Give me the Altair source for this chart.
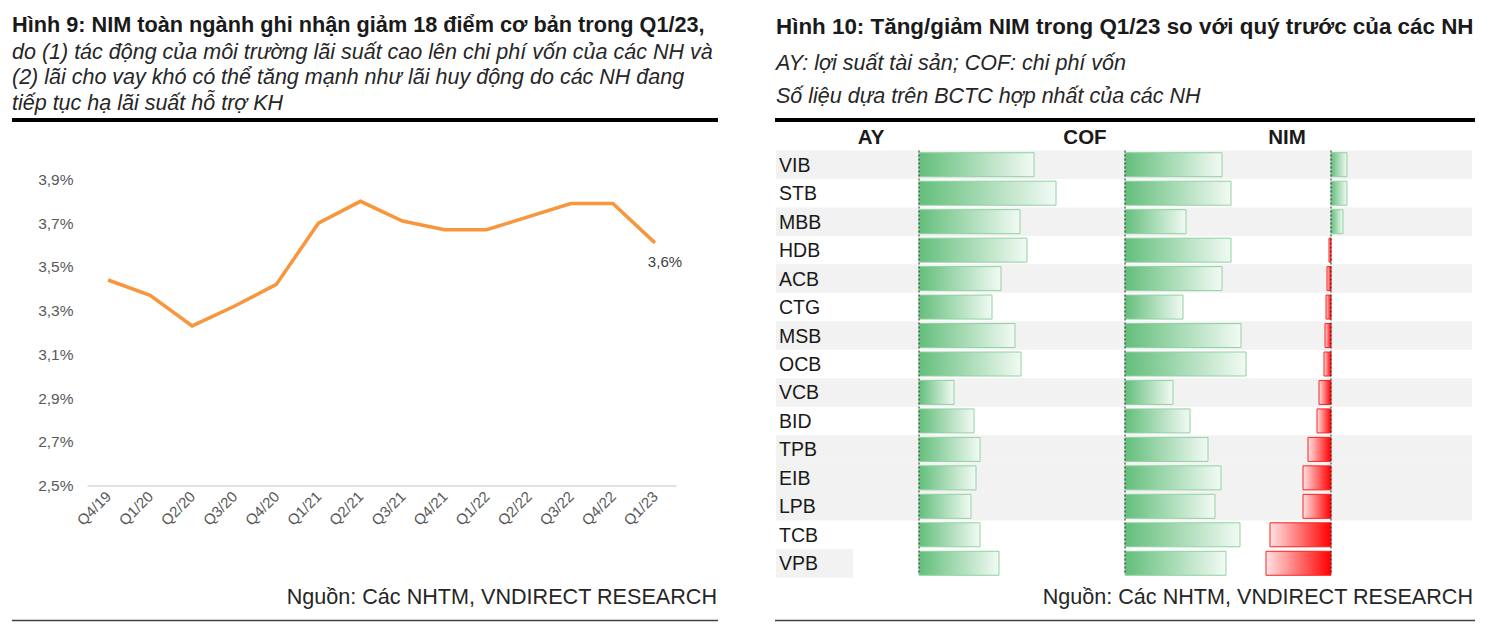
import altair as alt
import pandas as pd

# ---------------- data ----------------
quarters = ["Q4/19", "Q1/20", "Q2/20", "Q3/20", "Q4/20", "Q1/21", "Q2/21",
            "Q3/21", "Q4/21", "Q1/22", "Q2/22", "Q3/22", "Q4/22", "Q1/23"]
nim_sector = [3.44, 3.37, 3.23, 3.32, 3.42, 3.70, 3.80,
              3.71, 3.67, 3.67, 3.73, 3.79, 3.79, 3.61]
y_ticks = [2.5, 2.7, 2.9, 3.1, 3.3, 3.5, 3.7, 3.9]

banks = ["VIB", "STB", "MBB", "HDB", "ACB", "CTG", "MSB", "OCB",
         "VCB", "BID", "TPB", "EIB", "LPB", "TCB", "VPB"]
# relative bar lengths (data-bar magnitudes)
ay_change = [115, 137, 101, 108, 82, 73, 96, 102, 35, 55, 61, 57, 52, 61, 80]
cof_change = [97, 106, 61, 106, 97, 58, 116, 121, 48, 65, 83, 96, 90, 115, 101]
nim_change = [16, 16, 12, -2, -4, -5, -6, -7, -12, -14, -23, -28, -28, -61, -65]
shaded_rows = ["VIB", "MBB", "ACB", "MSB", "VCB", "TPB", "EIB", "LPB"]
label_shaded_rows = ["VPB"]

left_title = "Hình 9: NIM toàn ngành ghi nhận giảm 18 điểm cơ bản trong Q1/23,"
left_sub = ["do (1) tác động của môi trường lãi suất cao lên chi phí vốn của các NH và",
            "(2) lãi cho vay khó có thể tăng mạnh như lãi huy động do các NH đang",
            "tiếp tục hạ lãi suất hỗ trợ KH"]
right_title = "Hình 10: Tăng/giảm NIM trong Q1/23 so với quý trước của các NH"
right_sub = ["AY: lợi suất tài sản; COF: chi phí vốn",
             "Số liệu dựa trên BCTC hợp nhất của các NH"]
headers = ["AY", "COF", "NIM"]
source = "Nguồn: Các NHTM, VNDIRECT RESEARCH"

FONT = "Liberation Sans"
DARK = "#1a1a1a"


def txt(s, x, y, size=21.5, weight="normal", style="normal", align="left", color=DARK):
    return alt.Chart(alt.Data(values=[{}])).mark_text(
        text=s, align=align, baseline="alphabetic", fontSize=size,
        fontWeight=weight, fontStyle=style, font=FONT, color=color
    ).encode(x=alt.value(x), y=alt.value(y))


def hrule(x1, x2, y, width, color):
    return alt.Chart(alt.Data(values=[{}])).mark_rule(
        color=color, strokeWidth=width
    ).encode(x=alt.value(x1), x2=alt.value(x2), y=alt.value(y))


# ---------------- left panel ----------------
LW, LH = 589, 335
left_df = pd.DataFrame({"quarter": quarters, "nim": nim_sector})

x_enc = alt.X("quarter:N", sort=quarters,
              scale=alt.Scale(type="point", padding=0.5),
              axis=alt.Axis(title=None, labelAngle=-45, labelAlign="right",
                            labelBaseline="middle", labelFontSize=15,
                            labelColor="#595959", domainColor="#d9d9d9",
                            domainWidth=1.5, ticks=False, labelPadding=8,
                            labelFont=FONT))
y_enc = alt.Y("nim:Q", scale=alt.Scale(domain=[2.5, 4.0325], nice=False, zero=False),
              axis=alt.Axis(title=None, values=y_ticks,
                            labelExpr="replace(format(datum.value, '.1f'), '.', ',') + '%'",
                            domain=False, ticks=False, grid=False, labelPadding=14,
                            labelFontSize=15.5, labelColor="#595959", labelFont=FONT))

line = alt.Chart(left_df).mark_line(color="#F7963C", strokeWidth=3.5).encode(x=x_enc, y=y_enc)
last_label = alt.Chart(left_df).transform_filter(
    alt.datum.quarter == quarters[-1]
).transform_calculate(
    lbl="replace(format(datum.nim, '.1f'), '.', ',') + '%'"
).mark_text(dx=10, dy=19, fontSize=15, color="#404040", font=FONT).encode(
    x=x_enc, y=y_enc, text="lbl:N")

left_layers = [line, last_label,
               txt(left_title, -75, -118.5, size=21.7, weight="bold")]
for i, s in enumerate(left_sub):
    left_layers.append(txt(s, -75, -92 + 25.5 * i, style="italic", color="#262626"))
left_layers += [hrule(-75, 631, -30.5, 4, "#000000"),
                txt(source, 630, 453, size=21.6, align="right", color="#262626"),
                hrule(-75, 631, 470, 1.5, "#404040")]
left = alt.layer(*left_layers).properties(width=LW, height=LH)

# ---------------- right panel ----------------
RW, RH = 696, 427
shade = ["row" if b in shaded_rows else ("label" if b in label_shaded_rows else "none")
         for b in banks]
right_df = pd.DataFrame({"bank": banks, "ay": ay_change, "cof": cof_change,
                         "nim": nim_change, "shade": shade})

yb = alt.Y("bank:N", sort=banks, scale=alt.Scale(paddingInner=0, paddingOuter=0), axis=None)

green = alt.Gradient(gradient="linear", x1=0, x2=1, y1=0, y2=0,
                     stops=[alt.GradientStop(color="#63BE7B", offset=0),
                            alt.GradientStop(color="#F2FAF4", offset=1)])
red = alt.Gradient(gradient="linear", x1=0, x2=1, y1=0, y2=0,
                   stops=[alt.GradientStop(color="#FFE3E3", offset=0),
                          alt.GradientStop(color="#FF0000", offset=1)])

stripes = alt.Chart(right_df).transform_filter(alt.datum.shade == "row").mark_rect(
    color="#F2F2F2").encode(y=yb, x=alt.value(0), x2=alt.value(RW))
label_bg = alt.Chart(right_df).transform_filter(alt.datum.shade == "label").mark_rect(
    color="#F2F2F2").encode(y=yb, x=alt.value(0), x2=alt.value(77))
labels = alt.Chart(right_df).mark_text(align="left", baseline="middle", fontSize=19.5,
                                       dy=1, font=FONT, color=DARK).encode(
    y=yb, x=alt.value(3), text="bank:N")


def column(field, domain, pos_only=True):
    sc = alt.Scale(domain=domain, nice=False, zero=False)
    layers = []
    pos = alt.Chart(right_df).transform_filter(f"datum.{field} >= 0").mark_bar(
        size=24, fill=green, stroke="#8ED3A2", strokeWidth=1).encode(
        y=yb, x=alt.X(f"{field}:Q", scale=sc, axis=None))
    layers.append(pos)
    if not pos_only:
        neg = alt.Chart(right_df).transform_filter(f"datum.{field} < 0").mark_bar(
            size=24, fill=red, stroke="#FF2020", strokeWidth=1).encode(
            y=yb, x=alt.X(f"{field}:Q", scale=sc, axis=None))
        layers.append(neg)
    zero = alt.Chart(alt.Data(values=[{}])).mark_rule(
        color="#222222", strokeWidth=1, strokeDash=[2, 2]).encode(
        x=alt.XDatum(0, type="quantitative", scale=sc, axis=None),
        y=alt.value(0), y2=alt.value(RH - 3))
    layers.append(zero)
    return alt.layer(*layers)


ay_col = column("ay", [-143, 553])
cof_col = column("cof", [-349, 347])
nim_col = column("nim", [-555, 141], pos_only=False)

right_layers = [stripes, label_bg, labels, ay_col, cof_col, nim_col,
                txt(headers[0], 95, -7, size=20.5, weight="bold", align="center"),
                txt(headers[1], 309, -7, size=20.5, weight="bold", align="center"),
                txt(headers[2], 511, -7, size=20.5, weight="bold", align="center"),
                txt(right_title, 0, -117, size=22.4, weight="bold")]
for i, s in enumerate(right_sub):
    right_layers.append(txt(s, 0, -81 + 33 * i, style="italic", color="#262626"))
right_layers += [hrule(-1, 699, -30.5, 4, "#000000"),
                 txt(source, 697, 453, size=21.6, align="right", color="#262626"),
                 hrule(-1, 699, 470, 1.5, "#404040")]
right = alt.layer(*right_layers).resolve_scale(x="independent").properties(
    width=RW, height=RH)

chart = alt.hconcat(left, right, spacing=53).properties(
    padding={"left": 2, "top": 6.5, "right": 0, "bottom": 0}
).configure(
    font=FONT, view=alt.ViewConfig(stroke="transparent", strokeWidth=0)
)

chart.save("out.html", embed_options={"renderer": "svg", "actions": False})
